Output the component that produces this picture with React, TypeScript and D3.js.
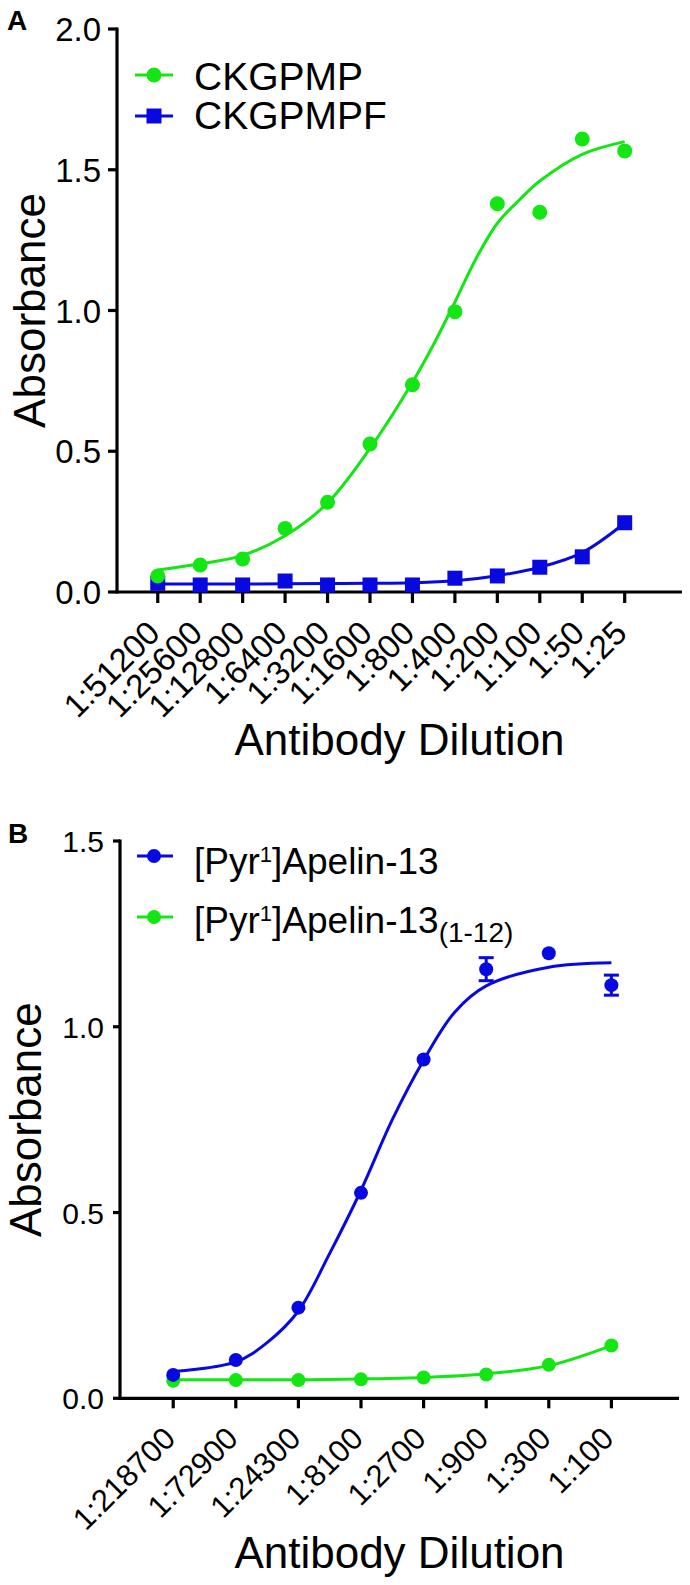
import React from "react";
import * as d3 from "d3";

// ---------- Panel A data ----------
const catsA = ["1:51200", "1:25600", "1:12800", "1:6400", "1:3200", "1:1600", "1:800", "1:400", "1:200", "1:100", "1:50", "1:25"];
const ckgpmp = [0.057, 0.096, 0.117, 0.226, 0.319, 0.526, 0.736, 0.996, 1.379, 1.349, 1.609, 1.567];
const ckgpmpf = [0.031, 0.025, 0.025, 0.039, 0.025, 0.025, 0.025, 0.049, 0.057, 0.088, 0.125, 0.246];
// fitted curves (x = category index)
const ckgpmpFitX = [0, 1, 2, 3, 4, 5, 6, 6.5, 7, 7.5, 8, 8.5, 9, 10, 11];
const ckgpmpFitY = [0.078, 0.1, 0.13, 0.2, 0.316, 0.51, 0.745, 0.88, 1.03, 1.185, 1.31, 1.39, 1.46, 1.555, 1.6];
const ckgpmpfFitX = [0, 1, 2, 3, 4, 5, 6, 7, 8, 9, 10, 11];
const ckgpmpfFitY = [0.028, 0.028, 0.028, 0.029, 0.03, 0.031, 0.033, 0.04, 0.058, 0.088, 0.14, 0.245];
const ticksA = [0, 0.5, 1.0, 1.5, 2.0];

// ---------- Panel B data ----------
const catsB = ["1:218700", "1:72900", "1:24300", "1:8100", "1:2700", "1:900", "1:300", "1:100"];
const apelin13 = [0.063, 0.103, 0.244, 0.553, 0.912, 1.155, 1.198, 1.112];
const apelin13Err = [0, 0, 0, 0, 0, 0.031, 0, 0.027];
const apelin112 = [0.047, 0.049, 0.049, 0.051, 0.056, 0.064, 0.09, 0.142];
const apelin13FitX = [0, 1, 1.5, 2, 2.5, 3, 3.5, 4, 4.5, 5, 6, 7];
const apelin13FitY = [0.072, 0.098, 0.15, 0.235, 0.39, 0.56, 0.75, 0.91, 1.04, 1.11, 1.16, 1.172];
const apelin112FitX = [0, 1, 2, 3, 4, 5, 6, 7];
const apelin112FitY = [0.05, 0.05, 0.05, 0.052, 0.056, 0.066, 0.088, 0.142];
const ticksB = [0, 0.5, 1.0, 1.5];

const GREEN = "#14e614";
const BLUE = "#0808e0";
const FONT = "'Liberation Sans', Arial, Helvetica, sans-serif";

function fitPath(xs: number[], ys: number[], x: any, y: any) {
  const pts = xs.map((v, i) => [v, ys[i]] as [number, number]);
  return d3
    .line<[number, number]>()
    .x((d) => x(d[0]))
    .y((d) => y(d[1]))
    .curve(d3.curveCatmullRom.alpha(0.5))(pts) as string;
}

function PanelA() {
  const x = d3.scaleLinear().domain([-0.96, 12.35]).range([117, 682]);
  const y = d3.scaleLinear().domain([0, 2]).range([592, 29]);
  const y0 = y(0);
  return (
    <g>
      <text x={7} y={30} fontSize={28} fontWeight="bold" fontFamily={FONT}>A</text>
      {/* axes */}
      <line x1={x.range()[0]} x2={x.range()[1]} y1={y0} y2={y0} stroke="#000" strokeWidth={3.2} />
      <line x1={x.range()[0]} x2={x.range()[0]} y1={y(2)} y2={y0} stroke="#000" strokeWidth={3.2} strokeLinecap="square" />
      {ticksA.map((t) => (
        <g key={t}>
          <line x1={108} x2={117} y1={y(t)} y2={y(t)} stroke="#000" strokeWidth={3.2} />
          <text x={101} y={y(t) + 12} fontSize={33} textAnchor="end" fontFamily={FONT}>{t.toFixed(1)}</text>
        </g>
      ))}
      {catsA.map((c, i) => (
        <g key={c}>
          <line x1={x(i)} x2={x(i)} y1={y0} y2={y0 + 11} stroke="#000" strokeWidth={3.2} />
          <text transform={`translate(${x(i) + 4},${y0 + 43}) rotate(-45)`} fontSize={33} textAnchor="end" fontFamily={FONT}>{c}</text>
        </g>
      ))}
      <text transform={`translate(45,${(y(0) + y(2)) / 2}) rotate(-90)`} fontSize={44} textAnchor="middle" fontFamily={FONT}>Absorbance</text>
      <text x={(x.range()[0] + x.range()[1]) / 2} y={755} fontSize={44} textAnchor="middle" fontFamily={FONT}>Antibody Dilution</text>
      {/* curves */}
      <path d={fitPath(ckgpmpfFitX, ckgpmpfFitY, x, y)} fill="none" stroke={BLUE} strokeWidth={3} />
      <path d={fitPath(ckgpmpFitX, ckgpmpFitY, x, y)} fill="none" stroke={GREEN} strokeWidth={3} />
      {ckgpmpf.map((v, i) => (
        <rect key={i} x={x(i) - 7.5} y={y(v) - 7.5} width={15} height={15} fill={BLUE} />
      ))}
      {ckgpmp.map((v, i) => (
        <circle key={i} cx={x(i)} cy={y(v)} r={7.5} fill={GREEN} />
      ))}
      {/* legend */}
      <line x1={135} x2={173} y1={75} y2={75} stroke={GREEN} strokeWidth={3} />
      <circle cx={154} cy={75} r={7.5} fill={GREEN} />
      <text x={194} y={90} fontSize={39} fontFamily={FONT}>CKGPMP</text>
      <line x1={135} x2={173} y1={116} y2={116} stroke={BLUE} strokeWidth={3} />
      <rect x={146.5} y={108.5} width={15} height={15} fill={BLUE} />
      <text x={194} y={129} fontSize={39} fontFamily={FONT}>CKGPMPF</text>
    </g>
  );
}

function PanelB() {
  const x = d3.scaleLinear().domain([-0.85, 8.08]).range([120, 679]);
  const y = d3.scaleLinear().domain([0, 1.5]).range([1398.3, 841]);
  const y0 = y(0);
  return (
    <g>
      <text x={8} y={843} fontSize={28} fontWeight="bold" fontFamily={FONT}>B</text>
      <line x1={x.range()[0]} x2={x.range()[1]} y1={y0} y2={y0} stroke="#000" strokeWidth={3.2} />
      <line x1={x.range()[0]} x2={x.range()[0]} y1={y(1.5)} y2={y0} stroke="#000" strokeWidth={3.2} strokeLinecap="square" />
      {ticksB.map((t) => (
        <g key={t}>
          <line x1={113} x2={120} y1={y(t)} y2={y(t)} stroke="#000" strokeWidth={3.2} />
          <text x={104} y={y(t) + 11} fontSize={30} textAnchor="end" fontFamily={FONT}>{t.toFixed(1)}</text>
        </g>
      ))}
      {catsB.map((c, i) => (
        <g key={c}>
          <line x1={x(i)} x2={x(i)} y1={y0} y2={y0 + 10} stroke="#000" strokeWidth={3.2} />
          <text transform={`translate(${x(i) + 4},${y0 + 42}) rotate(-45)`} fontSize={31} textAnchor="end" fontFamily={FONT}>{c}</text>
        </g>
      ))}
      <text transform={`translate(41,${(y(0) + y(1.5)) / 2}) rotate(-90)`} fontSize={44} textAnchor="middle" fontFamily={FONT}>Absorbance</text>
      <text x={(x.range()[0] + x.range()[1]) / 2} y={1568} fontSize={44} textAnchor="middle" fontFamily={FONT}>Antibody Dilution</text>
      <path d={fitPath(apelin112FitX, apelin112FitY, x, y)} fill="none" stroke={GREEN} strokeWidth={3} />
      <path d={fitPath(apelin13FitX, apelin13FitY, x, y)} fill="none" stroke={BLUE} strokeWidth={3} />
      {apelin112.map((v, i) => (
        <circle key={i} cx={x(i)} cy={y(v)} r={7} fill={GREEN} />
      ))}
      {apelin13.map((v, i) => (
        <g key={i}>
          {apelin13Err[i] > 0 && (
            <g stroke={BLUE} strokeWidth={3}>
              <line x1={x(i)} x2={x(i)} y1={y(v - apelin13Err[i])} y2={y(v + apelin13Err[i])} />
              <line x1={x(i) - 7.5} x2={x(i) + 7.5} y1={y(v - apelin13Err[i])} y2={y(v - apelin13Err[i])} />
              <line x1={x(i) - 7.5} x2={x(i) + 7.5} y1={y(v + apelin13Err[i])} y2={y(v + apelin13Err[i])} />
            </g>
          )}
          <circle cx={x(i)} cy={y(v)} r={7} fill={BLUE} />
        </g>
      ))}
      {/* legend */}
      <line x1={137} x2={173} y1={856} y2={856} stroke={BLUE} strokeWidth={3} />
      <circle cx={154} cy={856} r={7} fill={BLUE} />
      <text x={194} y={874} fontSize={37} fontFamily={FONT}>
        [Pyr<tspan fontSize={22} dy={-12}>1</tspan><tspan dy={12}>]Apelin-13</tspan>
      </text>
      <line x1={137} x2={173} y1={917} y2={917} stroke={GREEN} strokeWidth={3} />
      <circle cx={154} cy={917} r={7} fill={GREEN} />
      <text x={194} y={933} fontSize={37} fontFamily={FONT}>
        [Pyr<tspan fontSize={22} dy={-12}>1</tspan><tspan dy={12}>]Apelin-13</tspan><tspan fontSize={28} dy={9}>(1-12)</tspan>
      </text>
    </g>
  );
}

export default function App() {
  return (
    <svg width={690} height={1585} style={{ position: "absolute", left: 0, top: 0, background: "#fff" }}>
      <rect width={690} height={1585} fill="#fff" />
      <PanelA />
      <PanelB />
    </svg>
  );
}
